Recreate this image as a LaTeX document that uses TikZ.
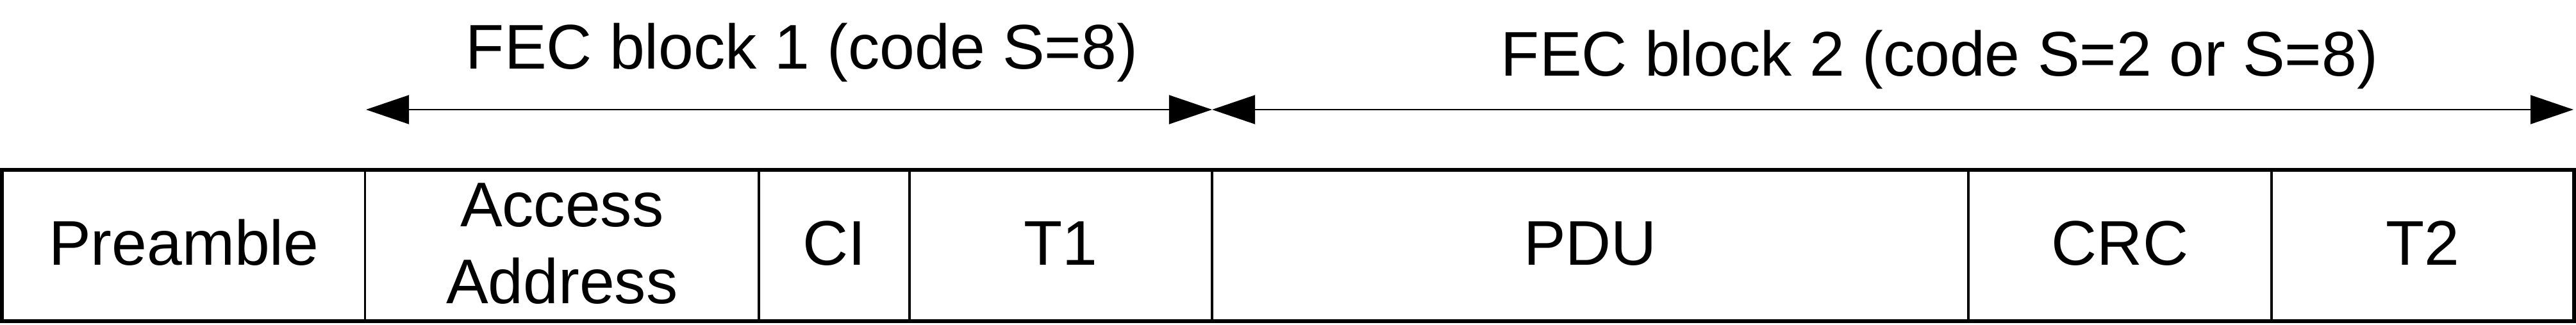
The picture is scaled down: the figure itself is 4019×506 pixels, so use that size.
\documentclass[tikz,border=0pt]{standalone}
\usepackage{fontspec}
\setmainfont{Liberation Sans}
\usetikzlibrary{arrows.meta}
\begin{document}
\begin{tikzpicture}[x=0.01cm,y=-0.01cm,
  lbl/.style={font=\fontsize{28}{34}\selectfont, inner sep=0pt, anchor=base, align=center},
  cellbox/.style={draw, line width=1pt, inner sep=0pt, minimum height=2.34cm},
  outerbox/.style={draw, line width=1.45pt},
  span/.style={line width=0.6pt, {Triangle[length=0.67cm,width=0.45cm]}-{Triangle[length=0.67cm,width=0.45cm]}},
  ]
\useasboundingbox (0,0) rectangle (4019,506);
% cells
\node[cellbox, minimum width=5.655cm] (pre) at (286.75,383) {};
\node[cellbox, minimum width=6.145cm] (aa)  at (876.75,383) {};
\node[cellbox, minimum width=2.35cm]  (ci)  at (1301.5,383) {};
\node[cellbox, minimum width=4.72cm]  (t1)  at (1655,383) {};
\node[cellbox, minimum width=11.8cm]  (pdu) at (2481,383) {};
\node[cellbox, minimum width=4.73cm]  (crc) at (3307.5,383) {};
\node[cellbox, minimum width=4.71cm]  (t2)  at (3779.5,383) {};
\draw[outerbox] (pre.north west) rectangle (t2.south east);
% labels
\node[lbl] (lpre) at (286.75,413) {Preamble};
\node[lbl] (laa)  at (876.75,473) {Access\\Address};
\node[lbl] (lci)  at (1301.5,413) {CI};
\node[lbl] (lt1)  at (1655,413) {T1};
\node[lbl] (lpdu) at (2481,413) {PDU};
\node[lbl] (lcrc) at (3307.5,413) {CRC};
\node[lbl] (lt2)  at (3779.5,413) {T2};
% spans
\coordinate (s1) at (571,171);
\coordinate (sm) at (1891,171);
\coordinate (s2) at (4015,171);
\draw[span] (s1) -- (sm);
\draw[span] (sm) -- (s2);
\node[lbl] (fec1) at (1251,107) {FEC block 1 (code S=8)};
\node[lbl] (fec2) at (3026,118) {FEC block 2 (code S=2 or S=8)};
\end{tikzpicture}
\end{document}
